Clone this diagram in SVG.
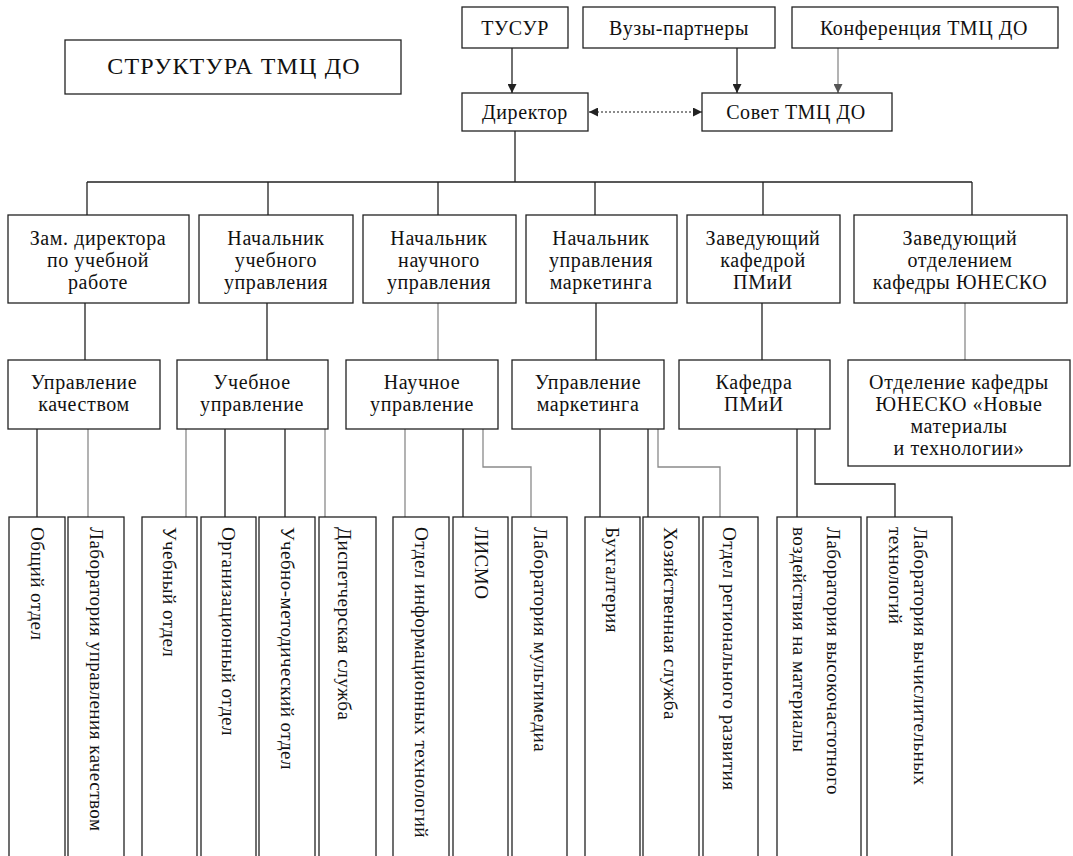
<svg xmlns="http://www.w3.org/2000/svg" width="1073" height="856" viewBox="0 0 1073 856">
<style>
.box{fill:#fff;stroke:#222;stroke-width:1.3}
.t{font-family:"Liberation Serif","Times New Roman","DejaVu Serif",serif;font-size:20px;fill:#111;letter-spacing:0.6px;text-anchor:middle}
.v{font-family:"Liberation Serif","Times New Roman","DejaVu Serif",serif;font-size:19px;fill:#111;letter-spacing:0.5px;text-anchor:start}
.title{font-size:24px;letter-spacing:1.2px}
.c{stroke:#222;stroke-width:1.3;fill:none}
.g{stroke:#8a8a8a}
.d{stroke:#666;stroke-dasharray:2 2}
</style>
<defs>
<marker id="arr" viewBox="0 0 10 10" refX="10" refY="5" markerWidth="9" markerHeight="9" markerUnits="userSpaceOnUse" orient="auto-start-reverse">
<path d="M0,0 L10,5 L0,10 z" fill="#222"/>
</marker>
<marker id="arrg" viewBox="0 0 10 10" refX="10" refY="5" markerWidth="9" markerHeight="9" markerUnits="userSpaceOnUse" orient="auto">
<path d="M0,0 L10,5 L0,10 z" fill="#555"/>
</marker>
</defs>
<rect width="1073" height="856" fill="#fff"/>

<g id="connectors">
<line class="c" x1="512" y1="48" x2="512" y2="93" marker-end="url(#arr)"/>
<line class="c" x1="737" y1="48" x2="737" y2="93" marker-end="url(#arr)"/>
<line class="c g" x1="838" y1="48" x2="838" y2="93" marker-end="url(#arrg)"/>
<line class="c d" x1="589" y1="112" x2="702" y2="112" marker-start="url(#arr)" marker-end="url(#arr)"/>
<path class="c" d="M515,131 V182 M87,182 H972 M87,182 V215 M268,182 V215 M438,182 V215 M595,182 V215 M763,182 V215 M972,182 V215"/>
<path class="c" d="M85,303 V360 M267,303 V360 M596,303 V360 M762,303 V360"/>
<path class="c g" d="M438,303 V360 M965,303 V360"/>
<path class="c" d="M37,429 V517 M225,429 V517 M285,429 V517 M463,429 V517 M600,429 V517 M648,429 V517 M797,429 V517"/>
<path class="c g" d="M88,429 V517 M186,429 V517 M325,429 V517 M405,429 V517"/>
<path class="c g" d="M483,429 V467 H531 V517"/>
<path class="c g" d="M658,429 V467 H720 V517"/>
<path class="c" d="M815,429 V484 H895 V517"/>
</g>

<g id="title"><rect class="box" x="65" y="40" width="336" height="54"/><text class="t title" x="234" y="74">СТРУКТУРА ТМЦ ДО</text></g>
<g id="tusur"><rect class="box" x="462" y="7" width="106" height="41"/><text class="t" x="515" y="35">ТУСУР</text></g>
<g id="vuzy"><rect class="box" x="583" y="7" width="192" height="41"/><text class="t" x="679" y="35">Вузы-партнеры</text></g>
<g id="konf"><rect class="box" x="792" y="7" width="266" height="41"/><text class="t" x="924" y="35">Конференция ТМЦ ДО</text></g>
<g id="director"><rect class="box" x="462" y="93" width="126" height="38"/><text class="t" x="525" y="119">Директор</text></g>
<g id="sovet"><rect class="box" x="702" y="93" width="190" height="38"/><text class="t" x="796" y="119">Совет ТМЦ ДО</text></g>

<g id="zam"><rect class="box" x="8" y="215" width="181" height="88"/><text class="t" x="98" y="245">Зам. директора<tspan x="98" dy="22">по учебной</tspan><tspan x="98" dy="22">работе</tspan></text></g>
<g id="nach-ucheb"><rect class="box" x="199" y="215" width="154" height="88"/><text class="t" x="276" y="245">Начальник<tspan x="276" dy="22">учебного</tspan><tspan x="276" dy="22">управления</tspan></text></g>
<g id="nach-nauch"><rect class="box" x="363" y="215" width="153" height="88"/><text class="t" x="439" y="245">Начальник<tspan x="439" dy="22">научного</tspan><tspan x="439" dy="22">управления</tspan></text></g>
<g id="nach-mark"><rect class="box" x="526" y="215" width="151" height="88"/><text class="t" x="601" y="245">Начальник<tspan x="601" dy="22">управления</tspan><tspan x="601" dy="22">маркетинга</tspan></text></g>
<g id="zav-pmii"><rect class="box" x="687" y="215" width="153" height="88"/><text class="t" x="763" y="245">Заведующий<tspan x="763" dy="22">кафедрой</tspan><tspan x="763" dy="22">ПМиИ</tspan></text></g>
<g id="zav-unesco"><rect class="box" x="854" y="215" width="213" height="88"/><text class="t" x="960" y="245">Заведующий<tspan x="960" dy="22">отделением</tspan><tspan x="960" dy="22">кафедры ЮНЕСКО</tspan></text></g>

<g id="upr-kach"><rect class="box" x="8" y="360" width="152" height="69"/><text class="t" x="84" y="389">Управление<tspan x="84" dy="22">качеством</tspan></text></g>
<g id="ucheb-upr"><rect class="box" x="177" y="360" width="151" height="69"/><text class="t" x="252" y="389">Учебное<tspan x="252" dy="22">управление</tspan></text></g>
<g id="nauch-upr"><rect class="box" x="346" y="360" width="152" height="69"/><text class="t" x="422" y="389">Научное<tspan x="422" dy="22">управление</tspan></text></g>
<g id="upr-mark"><rect class="box" x="512" y="360" width="152" height="69"/><text class="t" x="588" y="389">Управление<tspan x="588" dy="22">маркетинга</tspan></text></g>
<g id="kaf-pmii"><rect class="box" x="679" y="360" width="151" height="69"/><text class="t" x="754" y="389">Кафедра<tspan x="754" dy="22">ПМиИ</tspan></text></g>
<g id="otd-unesco"><rect class="box" x="848" y="360" width="222" height="106"/><text class="t" x="959" y="389">Отделение кафедры<tspan x="959" dy="22">ЮНЕСКО «Новые</tspan><tspan x="959" dy="22">материалы</tspan><tspan x="959" dy="22">и технологии»</tspan></text></g>

<g id="obsh"><rect class="box" x="9" y="517" width="56" height="350"/><text class="v" transform="translate(37,527) rotate(90)" y="6">Общий отдел</text></g>
<g id="lab-kach"><rect class="box" x="68" y="517" width="56" height="350"/><text class="v" transform="translate(96,527) rotate(90)" y="6">Лаборатория управления качеством</text></g>
<g id="ucheb-otd"><rect class="box" x="142" y="517" width="55" height="350"/><text class="v" transform="translate(169,527) rotate(90)" y="6">Учебный отдел</text></g>
<g id="org-otd"><rect class="box" x="201" y="517" width="55" height="350"/><text class="v" transform="translate(228,527) rotate(90)" y="6">Организационный отдел</text></g>
<g id="um-otd"><rect class="box" x="259" y="517" width="56" height="350"/><text class="v" transform="translate(287,527) rotate(90)" y="6">Учебно-методический отдел</text></g>
<g id="disp"><rect class="box" x="319" y="517" width="57" height="350"/><text class="v" transform="translate(344,527) rotate(90)" y="6">Диспетчерская служба</text></g>
<g id="oit"><rect class="box" x="393" y="517" width="56" height="350"/><text class="v" transform="translate(421,527) rotate(90)" y="6">Отдел информационных технологий</text></g>
<g id="lismo"><rect class="box" x="453" y="517" width="55" height="350"/><text class="v" transform="translate(481,527) rotate(90)" y="6">ЛИСМО</text></g>
<g id="lab-mm"><rect class="box" x="512" y="517" width="55" height="350"/><text class="v" transform="translate(540,527) rotate(90)" y="6">Лаборатория мультимедиа</text></g>
<g id="buh"><rect class="box" x="585" y="517" width="55" height="350"/><text class="v" transform="translate(612,527) rotate(90)" y="6">Бухгалтерия</text></g>
<g id="hoz"><rect class="box" x="643" y="517" width="56" height="350"/><text class="v" transform="translate(670,527) rotate(90)" y="6">Хозяйственная служба</text></g>
<g id="ord"><rect class="box" x="703" y="517" width="55" height="350"/><text class="v" transform="translate(729,527) rotate(90)" y="6">Отдел регионального развития</text></g>
<g id="lab-vch"><rect class="box" x="777" y="517" width="84" height="350"/><text class="v" transform="translate(833,527) rotate(90)" y="6">Лаборатория высокочастотного</text><text class="v" transform="translate(799,527) rotate(90)" y="6">воздействия на материалы</text></g>
<g id="lab-vt"><rect class="box" x="867" y="517" width="85" height="350"/><text class="v" transform="translate(920,527) rotate(90)" y="6">Лаборатория вычислительных</text><text class="v" transform="translate(895,527) rotate(90)" y="6">технологий</text></g>
</svg>
